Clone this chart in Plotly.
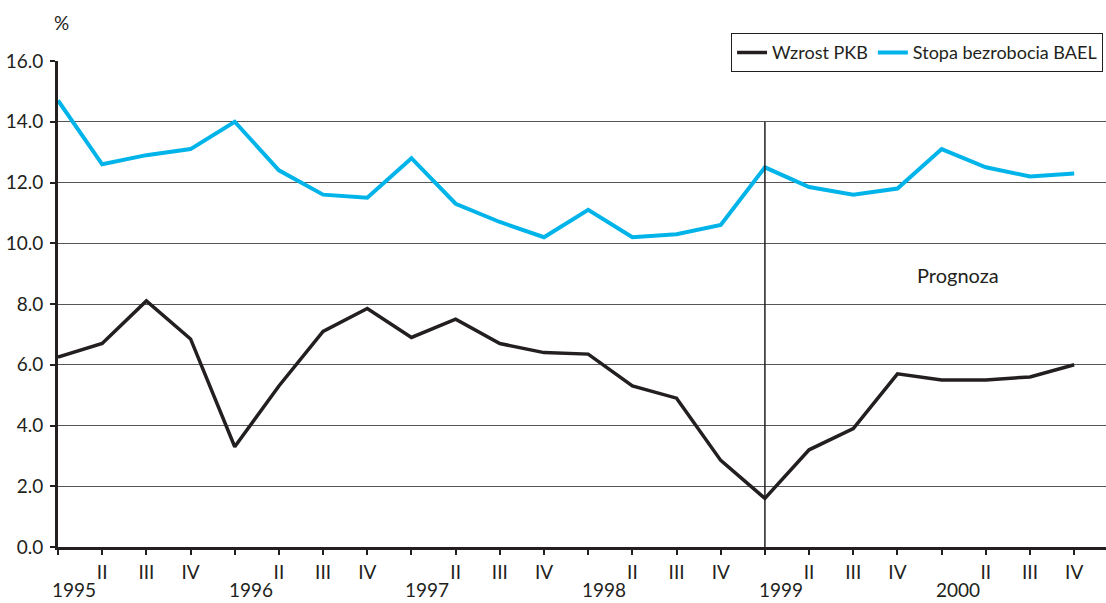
import plotly.graph_objects as go

# Quarterly series, 1995 Q1 - 2000 Q4
quarters = ["1995 I", "1995 II", "1995 III", "1995 IV",
            "1996 I", "1996 II", "1996 III", "1996 IV",
            "1997 I", "1997 II", "1997 III", "1997 IV",
            "1998 I", "1998 II", "1998 III", "1998 IV",
            "1999 I", "1999 II", "1999 III", "1999 IV",
            "2000 I", "2000 II", "2000 III", "2000 IV"]
quarter_labels = ["", "II", "III", "IV"] * 6
years = ["1995", "1996", "1997", "1998", "1999", "2000"]

wzrost_pkb = [6.25, 6.7, 8.1, 6.85, 3.3, 5.3, 7.1, 7.85, 6.9, 7.5, 6.7, 6.4,
              6.35, 5.3, 4.9, 2.85, 1.6, 3.2, 3.9, 5.7, 5.5, 5.5, 5.6, 6.0]
stopa_bezrobocia = [14.7, 12.6, 12.9, 13.1, 14.0, 12.4, 11.6, 11.5, 12.8, 11.3,
                    10.7, 10.2, 11.1, 10.2, 10.3, 10.6, 12.5, 11.85, 11.6, 11.8,
                    13.1, 12.5, 12.2, 12.3]

forecast_start = 16  # index of 1999 Q1
y_ticks = [0, 2, 4, 6, 8, 10, 12, 14, 16]

FONT = "Lato, 'Open Sans', sans-serif"
INK = "#231f20"
idx = list(range(len(quarters)))

fig = go.Figure()
fig.add_trace(go.Scatter(x=idx, y=wzrost_pkb, mode="lines", name="Wzrost PKB",
                         line=dict(color=INK, width=3.5)))
fig.add_trace(go.Scatter(x=idx, y=stopa_bezrobocia, mode="lines",
                         name="Stopa bezrobocia BAEL",
                         line=dict(color="#00b4ea", width=4)))

# forecast divider
fig.add_shape(type="line", x0=forecast_start, x1=forecast_start, y0=0, y1=14,
              xref="x", yref="y", line=dict(color=INK, width=1.5))
fig.add_annotation(x=20.37, y=8.95, xref="x", yref="y", text="Prognoza",
                   showarrow=False, font=dict(family=FONT, size=20, color=INK))

# year labels under the first quarter of each year
for i, yr in enumerate(years):
    fig.add_annotation(x=i * 4 + 0.36, y=-0.088, xref="x", yref="paper",
                       text=yr, showarrow=False, yanchor="middle",
                       font=dict(family=FONT, size=19, color=INK))

fig.add_annotation(x=0.09, y=1.08, xref="x", yref="paper", text="%",
                   showarrow=False, yanchor="middle",
                   font=dict(family=FONT, size=19, color=INK))

fig.update_layout(
    width=1106, height=603,
    margin=dict(l=58, r=0, t=61, b=56, autoexpand=False),
    paper_bgcolor="white", plot_bgcolor="white",
    font=dict(family=FONT, size=19, color=INK),
    showlegend=True,
    legend=dict(orientation="h", x=0.997, xanchor="right", y=1.0576, yanchor="top",
                bordercolor=INK, borderwidth=1.2, bgcolor="white",
                font=dict(family=FONT, size=18, color=INK),
                itemwidth=30, traceorder="normal"),
    xaxis=dict(range=[0, 23.72], tickvals=idx, ticktext=quarter_labels,
               ticks="outside", ticklen=5, tickwidth=2, tickcolor=INK,
               showgrid=False, zeroline=False, showline=True,
               linecolor=INK, linewidth=3, ticklabelstandoff=1,
               tickfont=dict(family=FONT, size=19, color=INK)),
    yaxis=dict(range=[0, 16], tickvals=y_ticks, tickformat=".1f",
               ticks="outside", ticklen=5, tickwidth=2, tickcolor=INK,
               showgrid=True, gridcolor="#555555", gridwidth=1.2,
               zeroline=False, showline=True, linecolor=INK, linewidth=3,
               ticklabelstandoff=3,
               tickfont=dict(family=FONT, size=19, color=INK)),
)

fig.write_html("out.html")
